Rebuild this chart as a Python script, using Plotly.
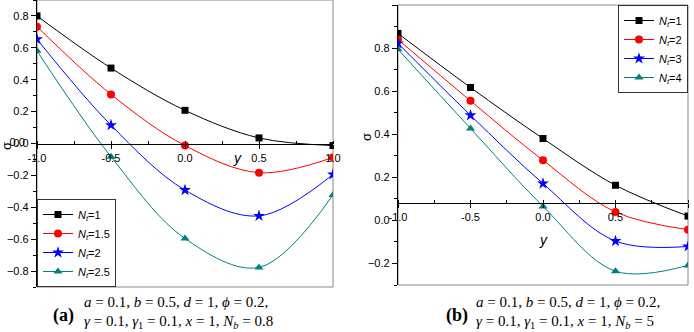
import plotly.graph_objects as go

W, H = 694, 332

# y coordinate grid and curve values
y_pts = [-1.0, -0.5, 0.0, 0.5, 1.0]

a_labels = ["1", "1.5", "2", "2.5"]
a_nt1 = [0.80, 0.473, 0.208, 0.035, -0.013]
a_nt15 = [0.733, 0.308, -0.013, -0.183, -0.088]
a_nt2 = [0.654, 0.115, -0.292, -0.454, -0.194]
a_nt25 = [0.581, -0.083, -0.596, -0.777, -0.323]

b_labels = ["1", "2", "3", "4"]
b_nt1 = [0.868, 0.617, 0.380, 0.163, 0.020]
b_nt2 = [0.840, 0.555, 0.279, 0.039, -0.043]
b_nt3 = [0.822, 0.488, 0.171, -0.096, -0.121]
b_nt4 = [0.794, 0.427, 0.065, -0.236, -0.209]

x_ticks = [-1.0, -0.5, 0.0, 0.5, 1.0]
x_ticktext = ["-1.0", "-0.5", "0.0", "0.5", "1.0"]
a_yticks = [-0.8, -0.6, -0.4, -0.2, 0.0, 0.2, 0.4, 0.6, 0.8]
b_yticks = [-0.2, 0.0, 0.2, 0.4, 0.6, 0.8, 1.0]

colors = ["#000000", "#ff0000", "#0000ff", "#008080"]
symbols = ["square", "circle", "star", "triangle-up"]
sizes = [7, 8, 9, 8]

fig = go.Figure()

def add_series(vals, label, i, xa, ya, legend):
    fig.add_trace(go.Scatter(
        x=y_pts, y=vals, mode="lines+markers",
        line=dict(color=colors[i], width=1, shape="spline", smoothing=1.0),
        marker=dict(symbol=symbols[i], size=sizes[i], color=colors[i]),
        name="<i>N</i><sub><i>t</i></sub>=" + label,
        xaxis=xa, yaxis=ya, legend=legend,
    ))

for i, v in enumerate([a_nt1, a_nt15, a_nt2, a_nt25]):
    add_series(v, a_labels[i], i, "x", "y", "legend")
for i, v in enumerate([b_nt1, b_nt2, b_nt3, b_nt4]):
    add_series(v, b_labels[i], i, "x2", "y2", "legend2")

def px_x(p):
    return p / W

def px_y(p):
    return 1 - p / H

tick_font = dict(family="Liberation Sans", size=11, color="#000")

# the y tick label at the axis crossing of panel (a), drawn as a text mark
fig.add_trace(go.Scatter(
    x=[x_ticks[0]], y=[0.0], mode="text", text=["0.0    "],
    textposition="middle left", textfont=tick_font,
    cliponaxis=False, showlegend=False, hoverinfo="skip",
    xaxis="x", yaxis="y",
))

ax_a_dom = [px_x(37), px_x(333)]
ay_a_dom = [px_y(287), px_y(0)]
ax_b_dom = [px_x(398), px_x(688)]
ay_b_dom = [px_y(285), px_y(5)]

common_x = dict(
    range=[-1.0, 1.0], tickvals=x_ticks, ticktext=x_ticktext,
    ticks="outside", ticklen=4, tickwidth=1, tickcolor="#000",
    showline=True, linecolor="#000", linewidth=1.3,
    showgrid=False, zeroline=False, tickfont=tick_font,
    minor=dict(dtick=0.25, ticks="inside", ticklen=3, tickcolor="#000"),
    anchor="free", automargin=False,
)
common_y = dict(
    ticks="outside", ticklen=5, tickwidth=1, tickcolor="#000",
    showline=True, linecolor="#000", linewidth=1.3,
    showgrid=False, zeroline=False, tickfont=tick_font,
    tickformat=".1f", automargin=False,
    minor=dict(dtick=0.1, ticks="outside", ticklen=3, tickcolor="#000"),
)

legend_font = dict(family="Liberation Sans", size=11, color="#000")

fig.update_layout(
    width=W, height=H,
    margin=dict(l=0, r=0, t=0, b=0, autoexpand=False),
    paper_bgcolor="white", plot_bgcolor="white",
    xaxis=dict(domain=ax_a_dom, position=px_y(144), **common_x),
    yaxis=dict(domain=ay_a_dom, range=[-0.9, 0.9], tickvals=a_yticks,
               anchor="x", **common_y),
    xaxis2=dict(domain=ax_b_dom, position=px_y(203), **common_x),
    yaxis2=dict(domain=ay_b_dom, range=[-0.3, 1.0], tickvals=b_yticks,
                anchor="x2", **common_y),
    legend=dict(
        x=px_x(37), y=px_y(287), xanchor="left", yanchor="bottom",
        bgcolor="white", bordercolor="#333", borderwidth=1,
        font=legend_font, itemwidth=30, tracegroupgap=0,
    ),
    legend2=dict(
        x=px_x(688), y=px_y(5), xanchor="right", yanchor="top",
        bgcolor="white", bordercolor="#333", borderwidth=1,
        font=legend_font, itemwidth=30, tracegroupgap=0,
    ),
    showlegend=True,
)

# Frame boxes around each panel
for xr, yr in [("x domain", "y domain"), ("x2 domain", "y2 domain")]:
    fig.add_shape(type="rect", xref=xr, yref=yr, x0=0, x1=1, y0=0, y1=1,
                  line=dict(color="#888", width=1), layer="below")

def note(xp, yp, text, font, **kw):
    fig.add_annotation(x=px_x(xp), y=px_y(yp), xref="paper", yref="paper",
                       text=text, showarrow=False, font=font,
                       xanchor=kw.pop("xanchor", "center"),
                       yanchor="middle", **kw)

ann_font = dict(family="Liberation Sans", size=13, color="#000")
# axis titles
for (xp, yp) in [(7, 146), (366, 137)]:
    note(xp, yp, "σ", ann_font, textangle=-90)
for (xp, yp) in [(237, 158), (543, 240)]:
    note(xp, yp, "<i>y</i>", dict(family="Liberation Sans", size=14, color="#000"))

cap_font = dict(family="Liberation Serif", size=15, color="#000")
captions = [
    ("(a)", 64, 82, "0.8"),
    ("(b)", 457, 474, "5"),
]
for tag, tag_x, txt_x, nb in captions:
    note(tag_x, 315, "<b>" + tag + "</b>",
         dict(family="Liberation Serif", size=18, color="#000"))
    note(txt_x, 302,
         "<i>a</i> = 0.1, <i>b</i> = 0.5, <i>d</i> = 1, <i>ϕ</i> = 0.2,",
         cap_font, xanchor="left")
    note(txt_x, 322,
         "<i>γ</i> = 0.1, <i>γ</i><sub>1</sub> = 0.1, <i>x</i> = 1, <i>N</i><sub><i>b</i></sub> = " + nb,
         cap_font, xanchor="left")

fig.write_html("out.html")
